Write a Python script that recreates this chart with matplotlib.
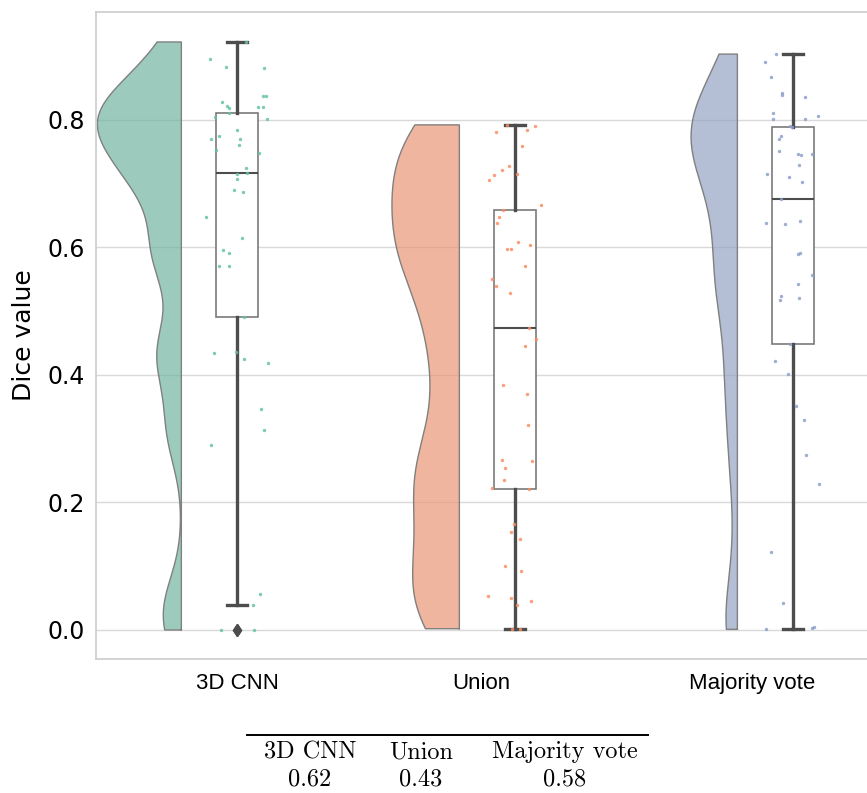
import colorsys
import numpy as np
import matplotlib
matplotlib.use("Agg")
import matplotlib.pyplot as plt
from matplotlib.colors import to_rgb
from matplotlib.lines import Line2D

# --- data ----------------------------------------------------------------
groups = ["3D CNN", "Union", "Majority vote"]
mean_dice = ["0.62", "0.43", "0.58"]

cnn_dice = [0.922, 0.895, 0.882, 0.881, 0.838, 0.837, 0.828, 0.822, 0.819, 0.820,
            0.820, 0.810, 0.804, 0.802, 0.784, 0.770, 0.774, 0.770, 0.761, 0.753,
            0.748, 0.724, 0.717, 0.715, 0.707, 0.690, 0.686, 0.647, 0.615, 0.596,
            0.591, 0.571, 0.571, 0.491, 0.434, 0.436, 0.425, 0.418, 0.347, 0.314,
            0.290, 0.057, 0.039, 0.0, 0.0]
cnn_jitter = [0.033, -0.096, -0.041, 0.096, 0.094, 0.104, -0.055, -0.037, -0.029, 0.075,
              0.094, -0.029, -0.079, 0.107, 0.0, -0.094, -0.064, 0.011, 0.007, -0.075,
              0.080, 0.033, 0.037, 0.0, 0.0, -0.011, 0.023, -0.111, 0.019, -0.051,
              -0.029, -0.066, -0.029, 0.024, -0.083, -0.003, 0.024, 0.112, 0.086, 0.099,
              -0.094, 0.083, 0.056, -0.059, 0.062]

union_dice = [0.792, 0.791, 0.784, 0.781, 0.759, 0.727, 0.721, 0.714, 0.715, 0.706,
              0.666, 0.658, 0.647, 0.638, 0.608, 0.603, 0.598, 0.598, 0.571, 0.550,
              0.539, 0.528, 0.473, 0.456, 0.446, 0.384, 0.370, 0.322, 0.266, 0.265,
              0.254, 0.235, 0.223, 0.221, 0.166, 0.154, 0.143, 0.101, 0.092, 0.053,
              0.050, 0.046, 0.039, 0.002, 0.002]
union_jitter = [-0.030, 0.073, 0.042, -0.067, 0.024, -0.020, -0.048, -0.076, 0.007, -0.092,
                0.094, -0.042, -0.056, -0.064, 0.012, 0.055, -0.030, -0.014, 0.035, -0.082,
                -0.068, -0.018, 0.050, 0.077, 0.037, -0.043, 0.044, 0.048, -0.046, 0.060,
                -0.035, -0.038, -0.083, 0.052, -0.004, -0.014, 0.019, -0.035, 0.023, -0.097,
                -0.014, 0.059, 0.006, -0.012, 0.018]

major_dice = [0.903, 0.890, 0.867, 0.842, 0.839, 0.836, 0.811, 0.801, 0.801, 0.806,
              0.790, 0.789, 0.774, 0.770, 0.751, 0.747, 0.744, 0.747, 0.729, 0.715,
              0.710, 0.703, 0.675, 0.638, 0.636, 0.642, 0.590, 0.591, 0.556, 0.543,
              0.524, 0.517, 0.520, 0.448, 0.421, 0.402, 0.351, 0.329, 0.275, 0.229,
              0.122, 0.043, 0.001, 0.003, 0.004]
major_jitter = [-0.062, -0.101, -0.079, -0.041, -0.038, 0.042, -0.072, -0.072, 0.043, 0.090,
                -0.010, -0.004, -0.043, -0.050, -0.049, 0.019, 0.028, 0.070, 0.022, -0.094,
                -0.016, 0.032, -0.044, -0.096, -0.030, 0.024, 0.019, 0.025, 0.067, 0.018,
                -0.042, -0.047, 0.023, -0.012, -0.064, -0.017, 0.011, 0.038, 0.048, 0.095,
                -0.079, -0.037, -0.098, 0.068, 0.074]

palette = ["#66c2a5", "#fc8d62", "#8da0cb"]  # Set2


def desaturate(color, prop):
    h, l, s = colorsys.rgb_to_hls(*to_rgb(color))
    return colorsys.hls_to_rgb(h, l, s * prop)


def kde(values, grid, factor=0.2):
    v = np.asarray(values, dtype=float)
    bw = factor * v.std(ddof=1)
    z = (grid[:, None] - v[None, :]) / bw
    return np.exp(-0.5 * z ** 2).sum(axis=1) / (len(v) * bw * np.sqrt(2 * np.pi))


data = [cnn_dice, union_dice, major_dice]
jitters = [cnn_jitter, union_jitter, major_jitter]

fig = plt.figure(figsize=(8.67, 7.93), dpi=100)
ax = fig.add_axes([96 / 867, 134 / 793, 774 / 867, 647 / 793])
ax.set_facecolor("white")

# half violins: flat side on the right, cut at the data range
offset = 0.2
half_width = 0.302
viol_scale = [1.0, 1.45, 0.68]   # visual width of each cloud
viol_bw = [0.2, 0.26, 0.24]
supports, densities = [], []
for vals, bw in zip(data, viol_bw):
    s = np.linspace(min(vals), max(vals), 300)
    supports.append(s)
    densities.append(kde(vals, s, bw))
ref = densities[0].max()
for i, (s, d) in enumerate(zip(supports, densities)):
    edge = i - offset
    left = edge - d / ref * half_width * viol_scale[i]
    ax.fill_betweenx(s, left, edge, facecolor=desaturate(palette[i], 0.75),
                     alpha=0.7, edgecolor="none", zorder=1)
    ax.plot(np.r_[edge, left, edge, edge], np.r_[s[0], s, s[-1], s[0]],
            color="#808080", lw=1, zorder=2)

# boxes
ax.boxplot(data, positions=range(len(groups)), widths=0.15, patch_artist=True,
           boxprops=dict(facecolor="white", edgecolor="#7a7a7a", lw=1.2),
           whiskerprops=dict(color="#4d4d4d", lw=2.4),
           capprops=dict(color="#4d4d4d", lw=2.4),
           medianprops=dict(color="#4d4d4d", lw=1.5),
           flierprops=dict(marker="d", markerfacecolor="#4d4d4d",
                           markeredgecolor="#4d4d4d", markersize=6),
           zorder=3)

# rain: jittered points
for i, (vals, jit) in enumerate(zip(data, jitters)):
    ax.scatter(i + np.asarray(jit), vals, s=6, color=palette[i], alpha=0.85,
               linewidths=0, zorder=4)

ax.set_xlim(-0.507, 2.277)
ax.set_ylim(-0.0455, 0.969)
ax.set_yticks([0.0, 0.2, 0.4, 0.6, 0.8])
ax.set_yticklabels(["0.0", "0.2", "0.4", "0.6", "0.8"], fontsize=17)
# category labels sit slightly left of the boxes in the original
ax.set_xticks([0.0, 0.878, 1.853])
ax.set_xticklabels(groups, fontsize=16, family="Liberation Sans")
ax.tick_params(axis="both", length=0)
ax.tick_params(axis="x", pad=10)
ax.tick_params(axis="y", pad=8)
ax.yaxis.grid(True, color="#d9d9d9", lw=1)
ax.set_axisbelow(True)
for sp in ax.spines.values():
    sp.set_color("#cccccc")
    sp.set_linewidth(1.2)
ax.set_ylabel("Dice value", fontsize=18, labelpad=8)

# LaTeX-like summary table below the plot
col_x = [310 / 867, 421 / 867, 565 / 867]
fig.add_artist(Line2D([247 / 867, 648 / 867], [1 - 735 / 793] * 2,
                      color="black", lw=1.4, transform=fig.transFigure))
for x, name, m in zip(col_x, groups, mean_dice):
    fig.text(x, 1 - 752 / 793, name, family="cmr10", fontsize=17.5,
             ha="center", va="center")
    fig.text(x, 1 - 779 / 793, m, family="cmr10", fontsize=17.5,
             ha="center", va="center")

fig.savefig("out.png", dpi=100)
